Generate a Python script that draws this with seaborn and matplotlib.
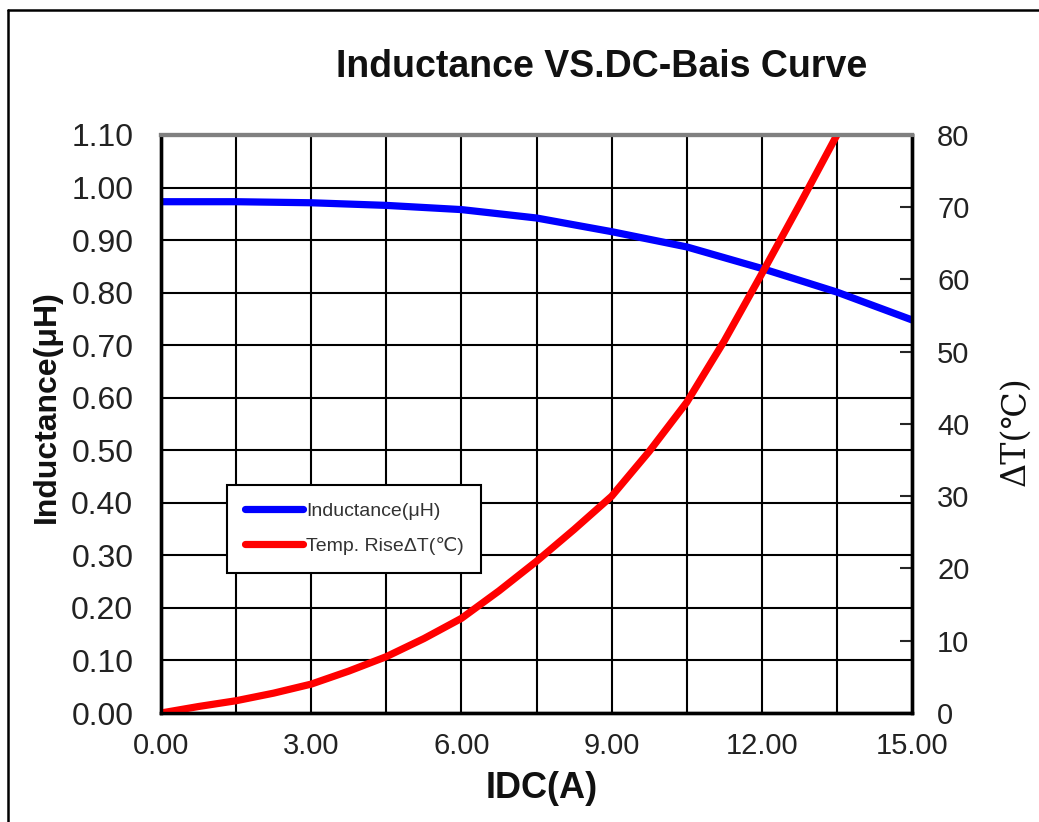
import numpy as np
import pandas as pd
import matplotlib
matplotlib.use("Agg")
import matplotlib.pyplot as plt
import seaborn as sns
from matplotlib.lines import Line2D

# datos
idc_l = [0.0, 1.5, 3.0, 4.5, 6.0, 7.5, 9.0, 10.5, 12.0, 13.5, 15.0]
inductance = [0.973, 0.973, 0.971, 0.966, 0.958, 0.942, 0.916, 0.887, 0.846, 0.801, 0.748]

idc_t = [0.0, 0.75, 1.5, 2.25, 3.0, 3.75, 4.5, 5.25, 6.0, 6.75, 7.5, 8.25,
         9.0, 9.75, 10.5, 11.25, 12.0, 12.75, 13.5]
temp_rise = [0.0, 0.9, 1.7, 2.75, 4.0, 5.8, 7.8, 10.3, 13.1, 16.9, 21.0, 25.4,
             30.0, 36.2, 43.0, 51.5, 60.8, 70.3, 80.0]

x_ticks = [0, 3, 6, 9, 12, 15]
x_grid = [0, 1.5, 3, 4.5, 6, 7.5, 9, 10.5, 12, 13.5, 15]
y_left_ticks = [0.0, 0.1, 0.2, 0.3, 0.4, 0.5, 0.6, 0.7, 0.8, 0.9, 1.0, 1.1]
y_right_ticks = [0, 10, 20, 30, 40, 50, 60, 70, 80]

title = "Inductance VS.DC-Bais Curve"
lab_l = "Inductance(μH)"
lab_t = "Temp. RiseΔT(℃)"

sns.set_style("white")
plt.rcParams["font.family"] = ["Liberation Sans", "DejaVu Sans"]

df_l = pd.DataFrame({"IDC": idc_l, "L": inductance})
df_t = pd.DataFrame({"IDC": idc_t, "T": temp_rise})

fig = plt.figure(figsize=(10.39, 8.22), dpi=100)
ax = fig.add_axes([0.155, 0.1326, 0.7228, 0.7032])
ax2 = ax.twinx()

sns.lineplot(data=df_l, x="IDC", y="L", ax=ax, color="#0000ff", linewidth=5.2,
             label=lab_l, legend=False)
sns.lineplot(data=df_t, x="IDC", y="T", ax=ax2, color="#ff0000", linewidth=5.2,
             label=lab_t, legend=False)

ax.set_xlim(0, 15)
ax.set_ylim(0, 1.1)
ax2.set_ylim(0, 80)

ax.set_xticks(x_ticks)
ax.set_xticklabels([f"{v:.2f}" for v in x_ticks])
ax.set_xticks(x_grid, minor=True)
ax.set_yticks(y_left_ticks)
ax.set_yticklabels([f"{v:.2f}" for v in y_left_ticks])
ax2.set_yticks(y_right_ticks)
ax2.set_yticklabels([str(v) for v in y_right_ticks])

ax.grid(True, which="both", color="black", linewidth=1.5)
ax.set_axisbelow(True)
ax.tick_params(axis="x", which="both", length=0, pad=14, labelsize=21, labelcolor="#222222")
ax.tick_params(axis="y", length=0, pad=20, labelsize=23, labelcolor="#222222")
ax2.tick_params(axis="y", direction="in", length=9, width=1.5, pad=18,
                labelsize=21, labelcolor="#222222")
ax2.grid(False)

ax.set_xlabel("")
ax.set_ylabel("")
ax2.set_ylabel("")

for a in (ax, ax2):
    for side in ("left", "bottom", "right"):
        a.spines[side].set_color("black")
        a.spines[side].set_linewidth(2.4)
    a.spines["top"].set_color("#808080")
    a.spines["top"].set_linewidth(3)

# leyenda combinada
h1, l1 = ax.get_legend_handles_labels()
h2, l2 = ax2.get_legend_handles_labels()
leg = ax2.legend(h1 + h2, l1 + l2, loc="upper left", bbox_to_anchor=(0.088, 0.395),
                 borderaxespad=0, fontsize=14, handlelength=3.0, handletextpad=0.15,
                 labelspacing=0.9, borderpad=0.9, fancybox=False, framealpha=1,
                 edgecolor="black")
leg.get_frame().set_linewidth(1.5)
for t in leg.get_texts():
    t.set_color("#333333")

# textos
fig.text(0.579, 0.919, title, ha="center", va="center", fontsize=27, fontweight="bold",
         color="#111111")
fig.text(0.521, 0.041, "IDC(A)", ha="center", va="center", fontsize=26, fontweight="bold",
         color="#111111")
fig.text(0.045, 0.505, lab_l, ha="center", va="center", rotation=90, fontsize=23,
         fontweight="bold", color="#111111")
fig.text(0.977, 0.476, "ΔT(℃)", ha="center", va="center", rotation=90, fontsize=24,
         family=["DejaVu Serif", "Noto Sans CJK SC"], color="#111111")

# marco exterior
fig.add_artist(Line2D([8 / 1039, 8 / 1039], [0, 1 - 10 / 822], transform=fig.transFigure,
                      color="black", linewidth=1.8))
fig.add_artist(Line2D([8 / 1039, 1], [1 - 10 / 822, 1 - 10 / 822], transform=fig.transFigure,
                      color="black", linewidth=1.8))

fig.savefig("out.png", dpi=100, facecolor="white")
